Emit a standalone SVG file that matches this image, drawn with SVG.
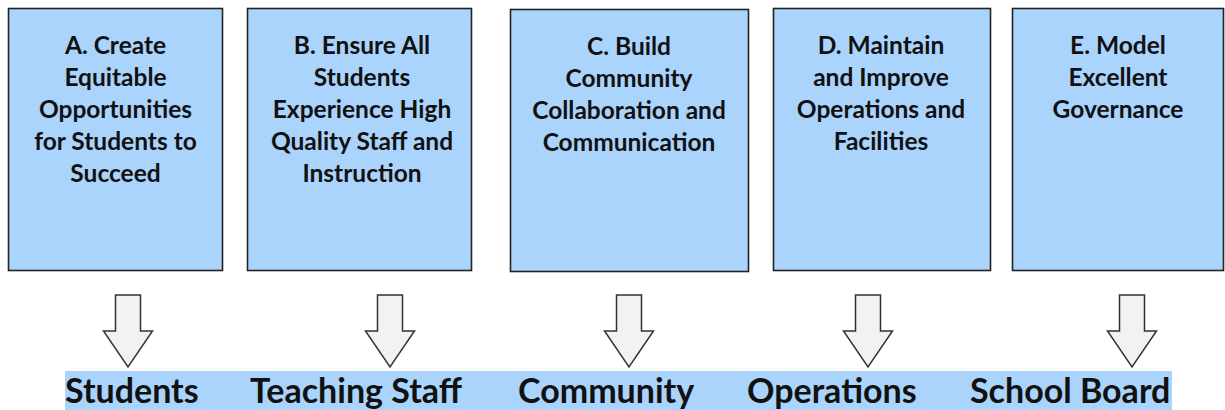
<svg xmlns="http://www.w3.org/2000/svg" width="1225" height="410" viewBox="0 0 1225 410">
  <defs>
    <style>
      .box { fill: #aad4fc; stroke: #222; stroke-width: 1.6; }
      .bt { font-family: Lato, "Open Sans", sans-serif; font-weight: bold; font-size: 24.5px; fill: #111; text-anchor: middle; }
      .lbl { font-family: Lato, "Open Sans", sans-serif; font-weight: bold; font-size: 34px; fill: #111; }
      .arr { fill: #f2f2f2; stroke: #333; stroke-width: 1.5; stroke-linejoin: miter; }
      .band { fill: #aad4fc; }
    </style>
  </defs>
  <rect width="1225" height="410" fill="#ffffff"/>

  <g id="nodeA">
    <rect class="box" x="8.5" y="8.5" width="214" height="262"/>
    <text class="bt"><tspan x="115.5" y="54">A. Create</tspan><tspan x="115.5" y="86">Equitable</tspan><tspan x="115.5" y="118">Opportunities</tspan><tspan x="115.5" y="150">for Students to</tspan><tspan x="115.5" y="182">Succeed</tspan></text>
  </g>
  <g id="nodeB">
    <rect class="box" x="247.5" y="8.5" width="224" height="262"/>
    <text class="bt"><tspan x="362" y="54">B. Ensure All</tspan><tspan x="362" y="86">Students</tspan><tspan x="362" y="118">Experience High</tspan><tspan x="362" y="150">Quality Staff and</tspan><tspan x="362" y="182">Instruction</tspan></text>
  </g>
  <g id="nodeC">
    <rect class="box" x="510.5" y="9.5" width="238" height="262"/>
    <text class="bt"><tspan x="629" y="55">C. Build</tspan><tspan x="629" y="87">Community</tspan><tspan x="629" y="119">Collaboration and</tspan><tspan x="629" y="151">Communication</tspan></text>
  </g>
  <g id="nodeD">
    <rect class="box" x="773.5" y="8.5" width="217" height="262"/>
    <text class="bt"><tspan x="881" y="54">D. Maintain</tspan><tspan x="881" y="86">and Improve</tspan><tspan x="881" y="118">Operations and</tspan><tspan x="881" y="150">Facilities</tspan></text>
  </g>
  <g id="nodeE">
    <rect class="box" x="1012.5" y="8.5" width="211" height="262"/>
    <text class="bt"><tspan x="1118" y="54">E. Model</tspan><tspan x="1118" y="86">Excellent</tspan><tspan x="1118" y="118">Governance</tspan></text>
  </g>

  <g id="connectors">
    <path class="arr" d="M115.5,295 H140.5 V331 H152.5 L128,367 L103.5,331 H115.5 Z"/>
    <path class="arr" d="M377.5,295 H402.5 V331 H414.5 L390,367 L365.5,331 H377.5 Z"/>
    <path class="arr" d="M616.5,295 H641.5 V331 H653.5 L629,367 L604.5,331 H616.5 Z"/>
    <path class="arr" d="M855.5,295 H880.5 V331 H892.5 L868,367 L843.5,331 H855.5 Z"/>
    <path class="arr" d="M1119.5,295 H1144.5 V331 H1156.5 L1132,367 L1107.5,331 H1119.5 Z"/>
  </g>

  <g id="band">
    <rect class="band" x="65" y="371" width="1107" height="39"/>
    <text class="lbl" x="65" y="403">Students</text>
    <text class="lbl" x="250" y="403">Teaching Staff</text>
    <text class="lbl" x="518" y="403">Community</text>
    <text class="lbl" x="747" y="403">Operations</text>
    <text class="lbl" x="970" y="403">School Board</text>
  </g>
</svg>
